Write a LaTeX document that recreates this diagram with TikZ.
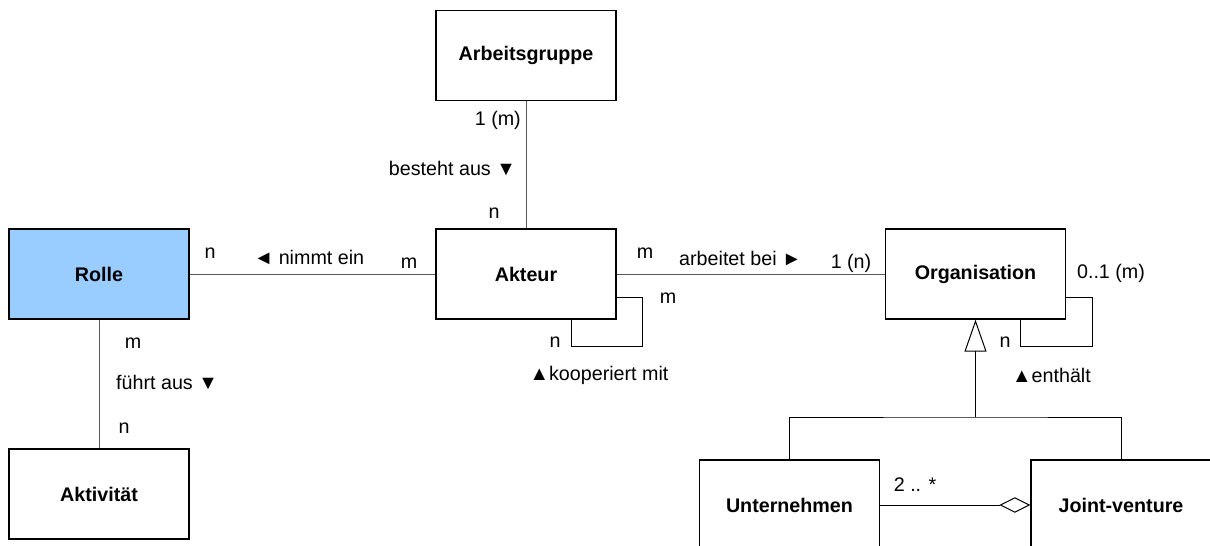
\documentclass[tikz,border=0pt]{standalone}
\usepackage{fontspec}
\setmainfont{Liberation Sans}
\usetikzlibrary{arrows.meta}

\definecolor{rollblue}{HTML}{99CCFF}

\begin{document}
\begin{tikzpicture}[
  x=1pt,y=-1pt,
  font=\fontsize{19.7}{23}\selectfont,
  ent/.style={draw,line width=1.4pt,minimum width=180pt,minimum height=90pt,
    font=\fontsize{19.7}{23}\selectfont\bfseries},
  con/.style={draw=black!65,line width=1pt},
  slf/.style={draw,line width=1pt},
  lb/.style={inner sep=0pt}]
\clip (0,0) rectangle (1210,546);
% entities
\node[ent] (grp) at (526,55.5) {Arbeitsgruppe};
\node[ent] (akt) at (526,274) {Akteur};
\node[ent,fill=rollblue] (rol) at (99,274) {Rolle};
\node[ent] (atv) at (99,494) {Aktivität};
\node[ent] (org) at (975.5,274) {Organisation};
\node[ent] (unt) at (789.5,505) {Unternehmen};
\node[ent] (jv) at (1121,505) {Joint-venture};
% associations
\draw[con] (grp) -- (akt);
\draw[con] (rol) -- (akt);
\draw[con] (rol) -- (atv);
\draw[con] (akt) -- (org);
\draw[slf] ([yshift=-23pt]akt.east) -- ++(26,0) -- ++(0,49) -| ([xshift=45pt]akt.south);
\draw[slf] ([yshift=-23pt]org.east) -- ++(26.5,0) -- ++(0,49) -| ([xshift=44.5pt]org.south);
% generalisation and aggregation
\coordinate (gen) at (975.5,417);
\draw[con,draw=black,-{Triangle[open,length=32pt,width=22pt]}] (gen) -- (org.south);
\draw[con,draw=black] (unt.north) |- (gen) -| (jv.north);
\draw[con,draw=black,-{Diamond[open,length=31pt,width=15.5pt]}] (unt.east) -- (jv.west);
% multiplicities and role names
\node[lb,anchor=east] (l1) at (521,120) {1 (m)};
\node[lb,anchor=east] (l2) at (516,168) {besteht aus ▼};
\node[lb] (l3) at (494,213) {n};
\node[lb] (l4) at (210,253) {n};
\node[lb] (l5) at (309,257) {◄ nimmt ein};
\node[lb] (l6) at (409,263) {m};
\node[lb] (l7) at (133,343) {m};
\node[lb,anchor=west] (l8) at (116,382) {führt aus ▼};
\node[lb] (l9) at (124,428) {n};
\node[lb] (l10) at (645,253) {m};
\node[lb,anchor=west] (l11) at (679,258) {arbeitet bei ►};
\node[lb] (l12) at (851,263) {1 (n)};
\node[lb] (l13) at (668,298) {m};
\node[lb] (l14) at (555,342) {n};
\node[lb] (l15) at (599,375) {▲kooperiert mit};
\node[lb] (l16) at (1111,273) {0..1 (m)};
\node[lb] (l17) at (1005,342) {n};
\node[lb] (l18) at (1051.5,375) {▲enthält};
\node[lb] (l19) at (915,485) {2 .. *};
\end{tikzpicture}
\end{document}
